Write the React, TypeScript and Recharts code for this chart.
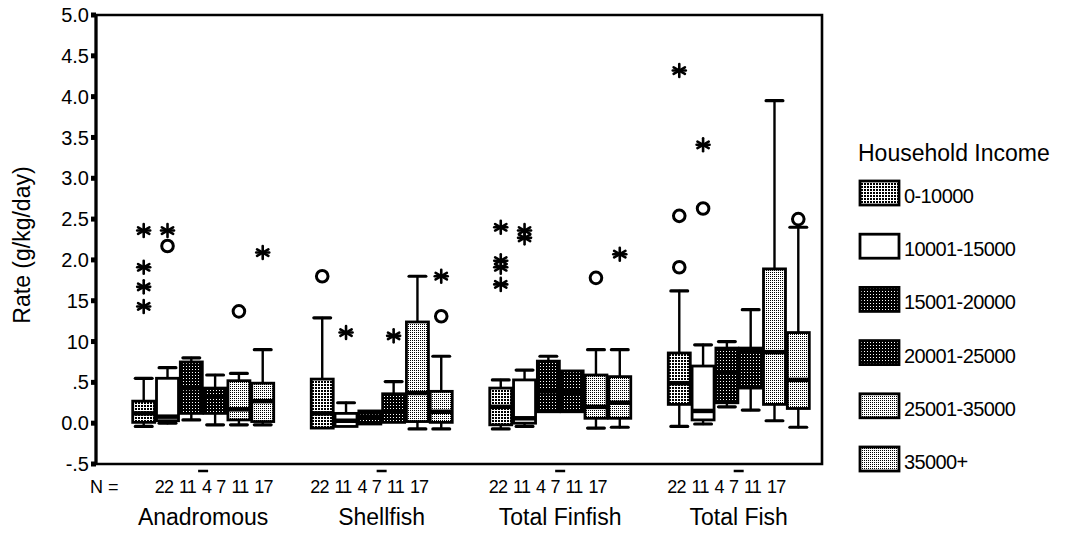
import React from 'react';
import { ComposedChart, Bar, XAxis, YAxis, ReferenceArea } from 'recharts';

// ---------------- data ----------------
const groups = ['Anadromous', 'Shellfish', 'Total Finfish', 'Total Fish'];
const incomes = ['0-10000', '10001-15000', '15001-20000', '20001-25000', '25001-35000', '35000+'];
const counts = [22, 11, 4, 7, 11, 17];

// [group][income]
const whiskerLow = [
  [-0.04, 0.0, 0.04, -0.02, -0.02, -0.02],
  [-0.07, -0.04, -0.01, 0.01, -0.07, -0.07],
  [-0.07, -0.04, 0.14, 0.14, -0.06, -0.05],
  [-0.04, -0.01, 0.2, 0.16, 0.03, -0.05],
];
const q1 = [
  [0.01, 0.03, 0.12, 0.12, 0.04, 0.02],
  [-0.06, -0.04, -0.01, 0.01, 0.02, 0.01],
  [-0.02, 0.0, 0.14, 0.14, 0.06, 0.06],
  [0.23, 0.04, 0.25, 0.43, 0.23, 0.18],
];
const median = [
  [0.12, 0.08, 0.43, 0.33, 0.17, 0.27],
  [0.12, 0.03, 0.08, 0.14, 0.37, 0.14],
  [0.2, 0.06, 0.39, 0.38, 0.2, 0.25],
  [0.49, 0.15, 0.62, 0.88, 0.87, 0.53],
];
const q3 = [
  [0.27, 0.55, 0.75, 0.43, 0.52, 0.49],
  [0.54, 0.12, 0.15, 0.36, 1.24, 0.39],
  [0.43, 0.53, 0.76, 0.64, 0.59, 0.57],
  [0.86, 0.7, 0.92, 0.92, 1.89, 1.11],
];
const whiskerHigh = [
  [0.55, 0.68, 0.8, 0.59, 0.61, 0.9],
  [1.29, 0.25, 0.15, 0.51, 1.8, 0.82],
  [0.53, 0.65, 0.82, 0.64, 0.9, 0.9],
  [1.62, 0.96, 1.0, 1.39, 3.95, 2.4],
];
// outliers (circles) and extremes (asterisks)
const outliers = [
  [[], [2.17], [], [], [1.37], []],
  [[1.8], [], [], [], [], [1.31]],
  [[], [], [], [], [1.78], []],
  [[2.54, 1.91], [2.63], [], [], [], [2.5]],
];
const extremes = [
  [[2.36, 1.91, 1.67, 1.43], [2.36], [], [], [], [2.09]],
  [[], [1.11], [], [1.07], [], [1.8]],
  [[2.4, 1.99, 1.91, 1.7], [2.36, 2.27], [], [], [], [2.07]],
  [[4.32], [3.41], [], [], [], []],
];

const yTicks = [-0.5, 0, 0.5, 1, 1.5, 2, 2.5, 3, 3.5, 4, 4.5, 5];
const yTickLabels = ['-.5', '0.0', '.5', '10', '15', '2.0', '2.5', '3.0', '3.5', '4.0', '4.5', '5.0'];

// ---------------- layout ----------------
const W = 1079;
const H = 540;
const PLOT_L = 96;
const PLOT_R = 822;
const PLOT_T = 15;
const PLOT_B = 464;
const YAXIS_W = 40;
const XAXIS_H = 70;
const LEAD = 3;
const GAP = 3;
const TRAIL = 1;
const FONT = '"Liberation Sans", Arial, sans-serif';
const N_FONT = 18;
const DIGIT_ADV = N_FONT * 0.556 - 0.8;
const SPACE_ADV = 5.2;

const fills = ['url(#pLight)', '#ffffff', 'url(#pDark)', 'url(#pDark)', 'url(#pLight2)', 'url(#pLight2)'];

type Slot = { slot: string; g: number; i: number; range: [number, number] | null };
const table: Slot[] = [];
let sc = 0;
const spacer = () => {
  table.push({ slot: 's' + sc, g: -1, i: -1, range: null });
  sc += 1;
};
for (let k = 0; k < LEAD; k++) spacer();
groups.forEach((_, g) => {
  if (g > 0) for (let k = 0; k < GAP; k++) spacer();
  incomes.forEach((__, i) => {
    const all = [whiskerLow[g][i], whiskerHigh[g][i], q1[g][i], q3[g][i], ...outliers[g][i], ...extremes[g][i]];
    table.push({ slot: `b${g}-${i}`, g, i, range: [Math.min(...all), Math.max(...all)] });
    spacer();
  });
});
for (let k = 0; k < TRAIL; k++) spacer();
const boxSlots = table.filter((t) => t.g >= 0).map((t) => t.slot);
const U = (PLOT_R - PLOT_L) / table.length;

// horizontal centre of each N label, measured from the start of its text row
const labelCenters: number[] = [];
{
  let pos = 0;
  counts.forEach((c) => {
    const w = String(c).length * DIGIT_ADV;
    labelCenters.push(pos + w / 2);
    pos += w + SPACE_ADV;
  });
}

const Patterns = () => (
  <defs>
    <pattern id="pLight" width="3" height="3" patternUnits="userSpaceOnUse">
      <rect width="3" height="3" fill="#fff" />
      <rect x="0" y="0" width="2" height="2" fill="#000" />
    </pattern>
    <pattern id="pLight2" width="2" height="2" patternUnits="userSpaceOnUse">
      <rect width="2" height="2" fill="#fff" />
      <rect x="0" y="0" width="1" height="1" fill="#000" />
    </pattern>
    <pattern id="pDark" width="3" height="3" patternUnits="userSpaceOnUse">
      <rect width="3" height="3" fill="#000" />
      <rect x="0" y="0" width="1" height="1" fill="#fff" />
    </pattern>
  </defs>
);

const Asterisk = ({ cx, cy }: { cx: number; cy: number }) => {
  const r = 6.5;
  const angles = [90, 30, 150, 0];
  return (
    <g stroke="#000" strokeWidth={2.6} strokeLinecap="round">
      {angles.map((a) => {
        const dx = r * Math.cos((a * Math.PI) / 180);
        const dy = r * Math.sin((a * Math.PI) / 180);
        return <line key={a} x1={cx - dx} y1={cy - dy} x2={cx + dx} y2={cy + dy} />;
      })}
    </g>
  );
};

const BoxShape = (props: any) => {
  const { x, y, width, height, payload } = props;
  if (!payload || payload.g < 0 || !payload.range) return <g />;
  const { g, i } = payload;
  const [lo, hi] = payload.range;
  const top = Math.min(y, y + height);
  const bot = Math.max(y, y + height);
  const py = (v: number) => (hi === lo ? top : top + ((bot - top) * (hi - v)) / (hi - lo));
  const bw = width * 2;
  const x0 = x;
  const cx = x + width;
  const capW = bw * 0.7;
  const yHi = py(whiskerHigh[g][i]);
  const yLo = py(whiskerLow[g][i]);
  const yQ3 = py(q3[g][i]);
  const yQ1 = py(q1[g][i]);
  const yMed = py(median[g][i]);
  return (
    <g>
      {yHi < yQ3 - 1 && (
        <g stroke="#000" strokeLinecap="round">
          <line x1={cx} x2={cx} y1={yHi} y2={yQ3} strokeWidth={2.4} />
          <line x1={cx - capW / 2} x2={cx + capW / 2} y1={yHi} y2={yHi} strokeWidth={3.2} />
        </g>
      )}
      {yLo > yQ1 + 1 && (
        <g stroke="#000" strokeLinecap="round">
          <line x1={cx} x2={cx} y1={yQ1} y2={yLo} strokeWidth={2.4} />
          <line x1={cx - capW / 2} x2={cx + capW / 2} y1={yLo} y2={yLo} strokeWidth={3.2} />
        </g>
      )}
      <rect
        x={x0 + 1}
        y={yQ3}
        width={bw - 2}
        height={Math.max(yQ1 - yQ3, 1)}
        fill={fills[i]}
        stroke="#000"
        strokeWidth={2.8}
      />
      <line x1={x0 + 1} x2={x0 + bw - 1} y1={yMed} y2={yMed} stroke="#000" strokeWidth={4.5} />
      {outliers[g][i].map((v, k) => (
        <circle key={'o' + k} cx={cx} cy={py(v)} r={5.8} fill="#fff" stroke="#000" strokeWidth={3} />
      ))}
      {extremes[g][i].map((v, k) => (
        <Asterisk key={'e' + k} cx={cx} cy={py(v)} />
      ))}
    </g>
  );
};

const XTick = (props: any) => {
  const { x, payload } = props;
  const entry = table.find((t) => t.slot === payload.value);
  if (!entry || entry.g < 0) return <g />;
  const { g, i } = entry;
  const groupStart = x - U / 2 - i * 2 * U;
  const groupCenter = groupStart + 6 * U;
  const shift = g === 0 ? 23 : 0;
  return (
    <g fontFamily={FONT} fill="#000">
      <text
        x={groupStart + shift + labelCenters[i]}
        y={PLOT_B + 29}
        textAnchor="middle"
        fontSize={N_FONT}
        letterSpacing={-0.8}
      >
        {counts[i]}
      </text>
      {i === 2 && (
        <line x1={groupCenter - 5} x2={groupCenter + 5} y1={PLOT_B + 7} y2={PLOT_B + 7} stroke="#000" strokeWidth={2.5} />
      )}
      {i === 2 && (
        <text x={groupCenter} y={PLOT_B + 61} textAnchor="middle" fontSize={23}>
          {groups[g]}
        </text>
      )}
      {g === 0 && i === 0 && (
        <text x={PLOT_L - 6} y={PLOT_B + 29} textAnchor="start" fontSize={N_FONT}>
          N =
        </text>
      )}
    </g>
  );
};

const Legend = () => (
  <svg width={W} height={H} style={{ position: 'absolute', left: 0, top: 0, pointerEvents: 'none' }}>
    <text
      x={22}
      y={245}
      transform="rotate(-90 22 245)"
      textAnchor="middle"
      dominantBaseline="central"
      fontFamily={FONT}
      fontSize={23}
      fill="#000"
    >
      Rate (g/kg/day)
    </text>
    <text x={858} y={161} fontFamily={FONT} fontSize={23} fill="#000">
      Household Income
    </text>
    {incomes.map((name, i) => {
      const cy = 193 + i * 53.2;
      return (
        <g key={name}>
          <rect x={860} y={cy - 12} width={39} height={24} fill={fills[i]} stroke="#000" strokeWidth={2.8} />
          <text x={904} y={cy + 3} dominantBaseline="central" fontFamily={FONT} fontSize={20} fill="#000" letterSpacing={-0.6}>
            {name}
          </text>
        </g>
      );
    })}
  </svg>
);

export default function App() {
  return (
    <div style={{ position: 'absolute', left: 0, top: 0, width: W, height: H, background: '#fff' }}>
      <svg width={0} height={0} style={{ position: 'absolute' }}>
        <Patterns />
      </svg>
      <ComposedChart
        width={W}
        height={H}
        data={table}
        barCategoryGap={0}
        barGap={0}
        margin={{ top: PLOT_T, right: W - PLOT_R, bottom: H - PLOT_B - XAXIS_H, left: PLOT_L - YAXIS_W }}
      >
        <XAxis
          dataKey="slot"
          type="category"
          ticks={boxSlots}
          interval={0}
          tick={<XTick />}
          axisLine={false}
          tickLine={false}
          height={XAXIS_H}
        />
        <YAxis
          type="number"
          domain={[-0.5, 5]}
          ticks={yTicks}
          interval={0}
          width={YAXIS_W}
          allowDataOverflow
          tickFormatter={(v: number) => yTickLabels[yTicks.indexOf(v)] ?? String(v)}
          tick={{ fontSize: 20, fill: '#000', fontFamily: FONT }}
          tickSize={5}
          tickMargin={2}
          tickLine={{ stroke: '#000', strokeWidth: 5 }}
          axisLine={{ stroke: '#000', strokeWidth: 3 }}
        />
        <ReferenceArea y1={-0.5} y2={5} fill="none" stroke="#000" strokeWidth={2.6} ifOverflow="visible" />
        <Bar dataKey="range" isAnimationActive={false} shape={BoxShape} />
      </ComposedChart>
      <Legend />
    </div>
  );
}
